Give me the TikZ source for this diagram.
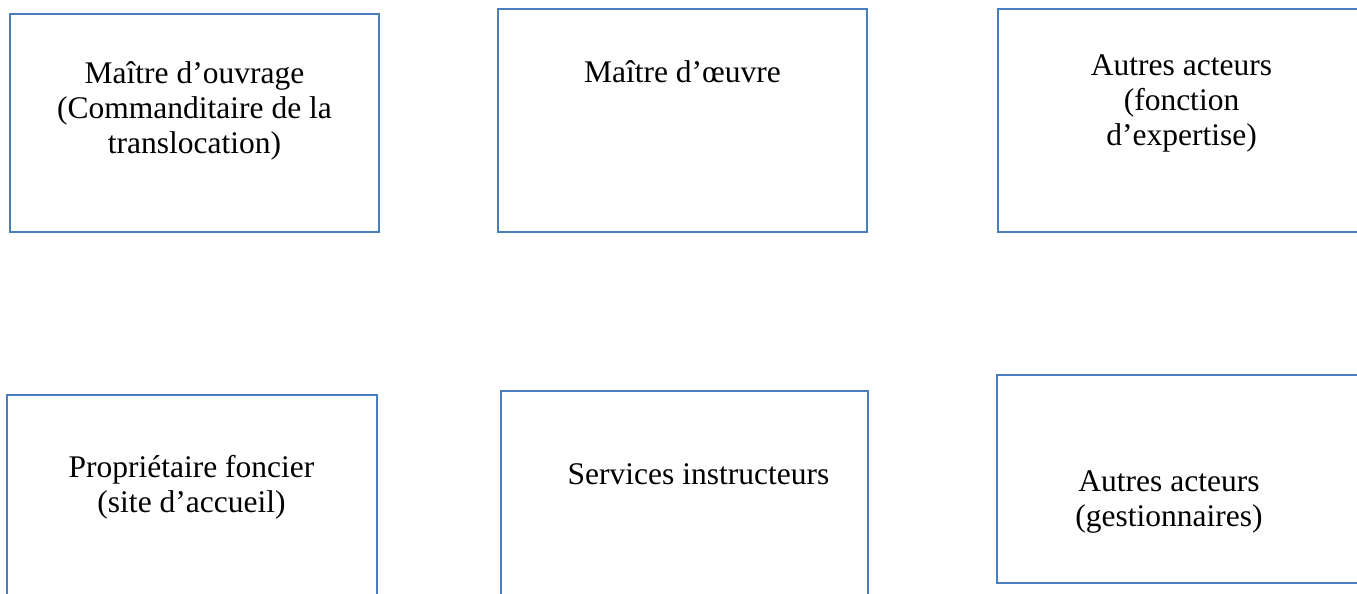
\documentclass[tikz,border=0pt]{standalone}
\usepackage{fontspec}
\setmainfont{Liberation Serif}
\definecolor{boxblue}{HTML}{4A7EBB}
\tikzset{
  actorbox/.style={draw=boxblue, line width=2pt, fill=none, rectangle, inner sep=0pt},
  actortext/.style={align=center, anchor=north, inner sep=0pt, font=\fontsize{31.5}{35}\selectfont}
}
\begin{document}
\begin{tikzpicture}[x=1pt,y=-1pt]
\useasboundingbox (0,0) rectangle (1357,594);
\clip (0,0) rectangle (1357,594);
\node[actorbox, minimum width=369pt, minimum height=218pt] (b1) at (194.5,123) {};
\node[actorbox, minimum width=369pt, minimum height=223pt] (b2) at (682.5,120.5) {};
\node[actorbox, minimum width=368pt, minimum height=223pt] (b3) at (1182,120.5) {};
\node[actorbox, minimum width=370pt, minimum height=220pt] (b4) at (192,505) {};
\node[actorbox, minimum width=367pt, minimum height=224pt] (b5) at (684.5,503) {};
\node[actorbox, minimum width=369pt, minimum height=208pt] (b6) at (1181.5,479) {};
\node[actortext] (t1) at (194.5,61) {Maître d’ouvrage\\(Commanditaire de la\\translocation)};
\node[actortext] (t2) at (682.5,60) {Maître d’œuvre};
\node[actortext] (t3) at (1181.5,55) {Autres acteurs\\(fonction\\d’expertise)};
\node[actortext] (t4) at (191.5,455) {Propriétaire foncier\\(site d’accueil)};
\node[actortext] (t5) at (698.5,463) {Services instructeurs};
\node[actortext] (t6) at (1169,470) {Autres acteurs\\(gestionnaires)};
\end{tikzpicture}
\end{document}
